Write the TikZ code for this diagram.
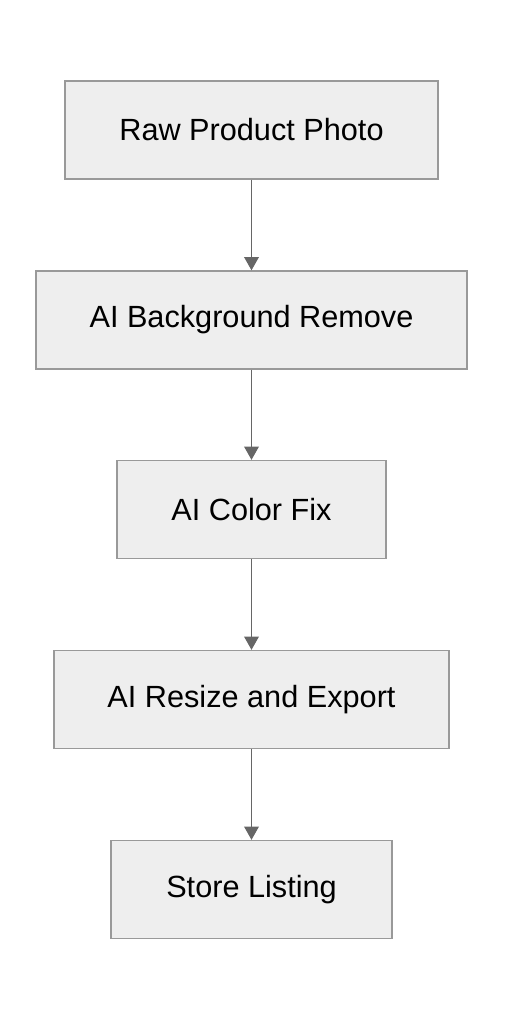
\documentclass[tikz,border=0pt]{standalone}
\usepackage{fontspec}
\setmainfont{Liberation Sans}
\usetikzlibrary{arrows.meta}
\definecolor{boxfill}{HTML}{EEEEEE}
\definecolor{boxline}{HTML}{999999}
\definecolor{flowline}{HTML}{666666}
\tikzset{
  stage/.style={draw=boxline,fill=boxfill,line width=1pt,minimum height=73.5pt,inner sep=0pt,font=\fontsize{23}{27}\selectfont},
  flow/.style={draw=flowline,line width=1.2pt,-{Triangle[length=10pt,width=11pt]}}
}
\begin{document}
\begin{tikzpicture}[x=0.75pt,y=-0.75pt]
            \useasboundingbox (0,0) rectangle (504,1020);
            \node[stage,minimum width=279.75pt] (raw) at (251.5,130) {Raw Product Photo};
            \node[stage,minimum width=323.25pt] (bg) at (251.5,320) {AI Background Remove};
            \node[stage,minimum width=201.75pt] (color) at (251.5,509.5) {AI Color Fix};
            \node[stage,minimum width=296.25pt] (resize) at (251.5,699.5) {AI Resize and Export};
            \node[stage,minimum width=210.75pt] (store) at (251.5,889.5) {Store Listing};
            \draw[flow] (raw) -- (bg);
            \draw[flow] (bg) -- (color);
            \draw[flow] (color) -- (resize);
            \draw[flow] (resize) -- (store);
        \end{tikzpicture}
\end{document}
